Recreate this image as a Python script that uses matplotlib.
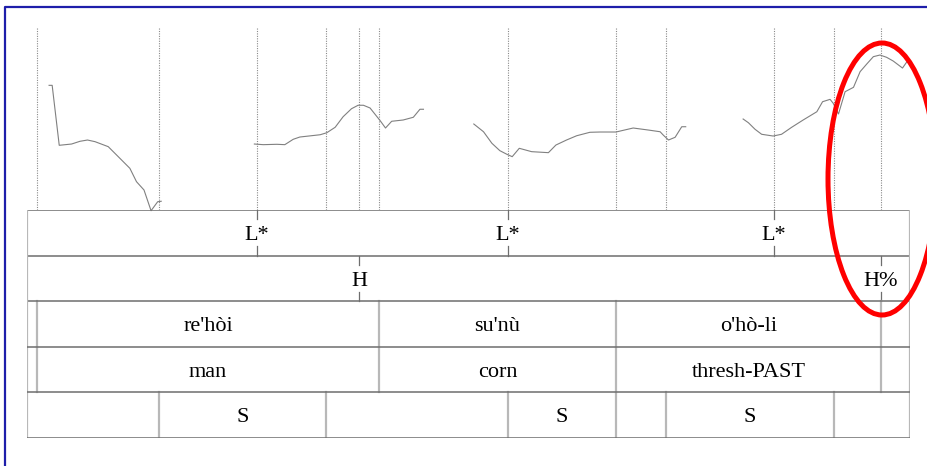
import numpy as np
import matplotlib
matplotlib.use("Agg")
import matplotlib.pyplot as plt
from matplotlib.patches import Ellipse
from matplotlib.lines import Line2D

plt.rcParams['font.family'] = ['Liberation Serif', 'DejaVu Serif']

# time axis in seconds, pitch in Hz
t_end = 2.0
f0_min, f0_max = 100, 300

# pitch track, nan = unvoiced gap
pitch_t = [0.050, 0.057, 0.073, 0.101, 0.120, 0.137, 0.154, 0.184, 0.203, 0.218, 0.233, 0.248, 0.265, 0.281, 0.296, 0.304,
           np.nan,
           0.515, 0.535, 0.566, 0.584, 0.603, 0.618, 0.664, 0.679, 0.698, 0.716, 0.735, 0.750, 0.762, 0.777, 0.800, 0.812,
           0.826, 0.852, 0.875, 0.890, 0.898,
           np.nan,
           1.012, 1.034, 1.053, 1.071, 1.087, 1.099, 1.115, 1.143, 1.181, 1.198, 1.222, 1.245, 1.275, 1.298, 1.334, 1.373,
           1.407, 1.434, 1.441, 1.453, 1.468, 1.483, 1.492,
           np.nan,
           1.622, 1.634, 1.649, 1.664, 1.690, 1.709, 1.732, 1.758, 1.789, 1.802, 1.819, 1.826, 1.838, 1.853, 1.872, 1.887,
           1.902, 1.917, 1.932, 1.947, 1.962, 1.983, 1.993]
pitch_hz = [237.0, 237.0, 171.1, 172.5, 175.5, 176.9, 175.1, 169.6, 160.4, 153.1, 145.8, 131.1, 122.0, 99.2, 109.1, 109.6,
            np.nan,
            172.5, 171.8, 172.2, 171.8, 177.7, 180.2, 182.7, 184.9, 190.9, 202.5, 211.3, 215.1, 215.1, 212.1, 198.1, 190.1,
            197.5, 198.9, 201.9, 210.7, 210.7,
            np.nan,
            194.5, 186.0, 173.3, 165.2, 161.2, 158.6, 167.8, 164.1, 163.0, 171.4, 176.9, 181.6, 185.4, 185.7, 185.7, 190.1,
            187.9, 186.0, 182.4, 176.9, 179.9, 191.5, 191.5,
            np.nan,
            200.0, 195.9, 188.7, 183.2, 181.3, 183.2, 190.9, 198.9, 208.0, 219.0, 221.6, 217.3, 205.5, 230.0, 234.8, 252.0,
            260.4, 268.5, 270.3, 267.8, 263.7, 256.0, 262.9]

# point tiers
tone_times = [0.521, 1.089, 1.692]
tone_labels = ['L*', 'L*', 'L*']
phrase_times = [0.752, 1.934]
phrase_labels = ['H', 'H%']

# interval tiers
word_bounds = [0.0, 0.023, 0.797, 1.334, 1.934, 2.0]
word_labels = ['', "re'hòi", "su'nù", "o'hò-li", '']
gloss_labels = ['', 'man', 'corn', 'thresh-PAST', '']
stress_bounds = [0.0, 0.299, 0.677, 1.089, 1.334, 1.447, 1.828, 2.0]
stress_labels = ['', 'S', '', 'S', '', 'S', '']

W, H = 927, 466
fig = plt.figure(figsize=(W / 100, H / 100), dpi=100)

left, right = 27 / W, 910 / W
ax_p = fig.add_axes([left, 1 - 210 / H, right - left, (210 - 28) / H])
ax_t = fig.add_axes([left, 1 - 438 / H, right - left, (438 - 210) / H])

# pitch panel
ax_p.set_xlim(0, t_end)
ax_p.set_ylim(f0_min, f0_max)
ax_p.axis('off')
all_marks = sorted(set(word_bounds[1:-1] + stress_bounds[1:-1] + tone_times + phrase_times))
for t in all_marks:
    ax_p.axvline(t, color='#8a8a8a', lw=0.8, ls=(0, (1, 1.2)))
ax_p.plot(pitch_t, pitch_hz, color='#808080', lw=0.8, clip_on=False)

# tier panel
ax_t.set_xlim(0, t_end)
ax_t.set_ylim(5, 0)
ax_t.axis('off')
fs = 16
tick = 0.2
text_dy = 0.56

def point_tier(row, times, labels):
    for t, lab in zip(times, labels):
        ax_t.plot([t, t], [row, row + tick], color='#6e6e6e', lw=0.9)
        ax_t.plot([t, t], [row + 1 - tick, row + 1], color='#6e6e6e', lw=0.9)
        ax_t.text(t, row + text_dy, lab, ha='center', va='center', fontsize=fs)

def interval_tier(row, bounds, labels):
    for b in bounds:
        ax_t.plot([b, b], [row, row + 1], color='#b8b8b8', lw=1.6)
    for a, b, lab in zip(bounds[:-1], bounds[1:], labels):
        if lab:
            ax_t.text((a + b) / 2, row + text_dy, lab, ha='center', va='center', fontsize=fs)

point_tier(0, tone_times, tone_labels)
point_tier(1, phrase_times, phrase_labels)
interval_tier(2, word_bounds, word_labels)
interval_tier(3, word_bounds, gloss_labels)
interval_tier(4, stress_bounds, stress_labels)

for r in range(6):
    ax_t.plot([0, t_end], [r, r], color='#6e6e6e', lw=1.1)
for x in (0, t_end):
    ax_t.plot([x, x], [0, 2], color='#b8b8b8', lw=1.6)

# blue frame (left and top edges)
fig.add_artist(Line2D([5 / W, 5 / W, 1.0], [0.0, 1 - 7 / H, 1 - 7 / H],
                      transform=fig.transFigure, color='#1e1eaa', lw=1.6))

# red highlight ellipse around the boundary tone
fig.add_artist(Ellipse((882 / W, 1 - 179 / H), 108 / W, 272 / H, transform=fig.transFigure,
                       fill=False, edgecolor='#ff0000', lw=3.6))

fig.savefig('out.png', dpi=100)
